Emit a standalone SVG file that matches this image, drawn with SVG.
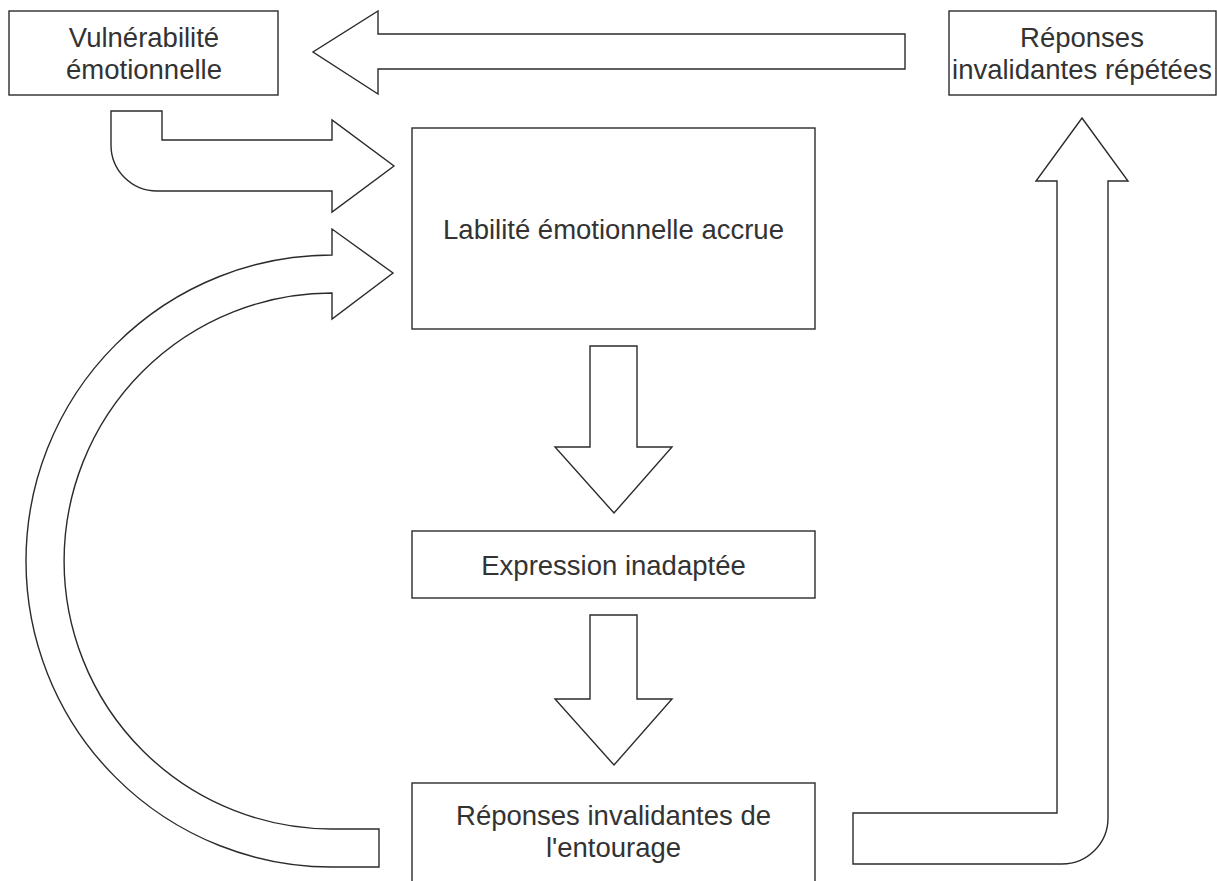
<svg xmlns="http://www.w3.org/2000/svg" width="1217" height="881" viewBox="0 0 1217 881">
<style>
.box{fill:#fff;stroke:#2b2b2b;stroke-width:1.4}
.arr{fill:#fff;stroke:#2b2b2b;stroke-width:1.4;stroke-linejoin:miter}
.t{font-family:"Liberation Sans",Arial,sans-serif;font-size:27.5px;fill:#333;text-anchor:middle}
</style>
<rect width="1217" height="881" fill="#fff"/>
<g id="connectors">
<path id="a-top" class="arr" d="M905,34 L378,34 L378,11 L313,52 L378,94 L378,69 L905,69 Z"/>
<path id="a-bent" class="arr" d="M111,111 L162,111 L162,140 L332,140 L332,120 L394,166 L332,212 L332,191 L157,191 A46,46 0 0 1 111,145 Z"/>
<path id="a-curve" class="arr" d="M379,829 L332,829 A268,268 0 0 1 332,293 L332,319 L393,273 L332,229 L332,255 A306,306 0 0 0 332,867 L379,867 Z"/>
<path id="a-down1" class="arr" d="M590,346 L637,346 L637,447 L672,447 L614,513 L555,447 L590,447 Z"/>
<path id="a-down2" class="arr" d="M590,615 L637,615 L637,699 L672,699 L614,765 L555,699 L590,699 Z"/>
<path id="a-right" class="arr" d="M853,813 L1057,813 L1057,181 L1036,181 L1082,118 L1128,181 L1108,181 L1108,818 A46,46 0 0 1 1062,864 L853,864 Z"/>
</g>
<g id="n-vulnerabilite">
<rect class="box" x="9" y="11" width="269" height="84"/>
<text class="t" x="144" y="47">Vulnérabilité</text>
<text class="t" x="144" y="79">émotionnelle</text>
</g>
<g id="n-repetees">
<rect class="box" x="949" y="11" width="267" height="84"/>
<text class="t" x="1082" y="47">Réponses</text>
<text class="t" x="1082" y="79">invalidantes répétées</text>
</g>
<g id="n-labilite">
<rect class="box" x="412" y="128" width="403" height="201"/>
<text class="t" x="613.5" y="239">Labilité émotionnelle accrue</text>
</g>
<g id="n-expression">
<rect class="box" x="412" y="531" width="403" height="67"/>
<text class="t" x="613.5" y="575">Expression inadaptée</text>
</g>
<g id="n-entourage">
<rect class="box" x="412" y="783" width="403" height="120"/>
<text class="t" x="613.5" y="825">Réponses invalidantes de</text>
<text class="t" x="613.5" y="857">l'entourage</text>
</g>
</svg>
